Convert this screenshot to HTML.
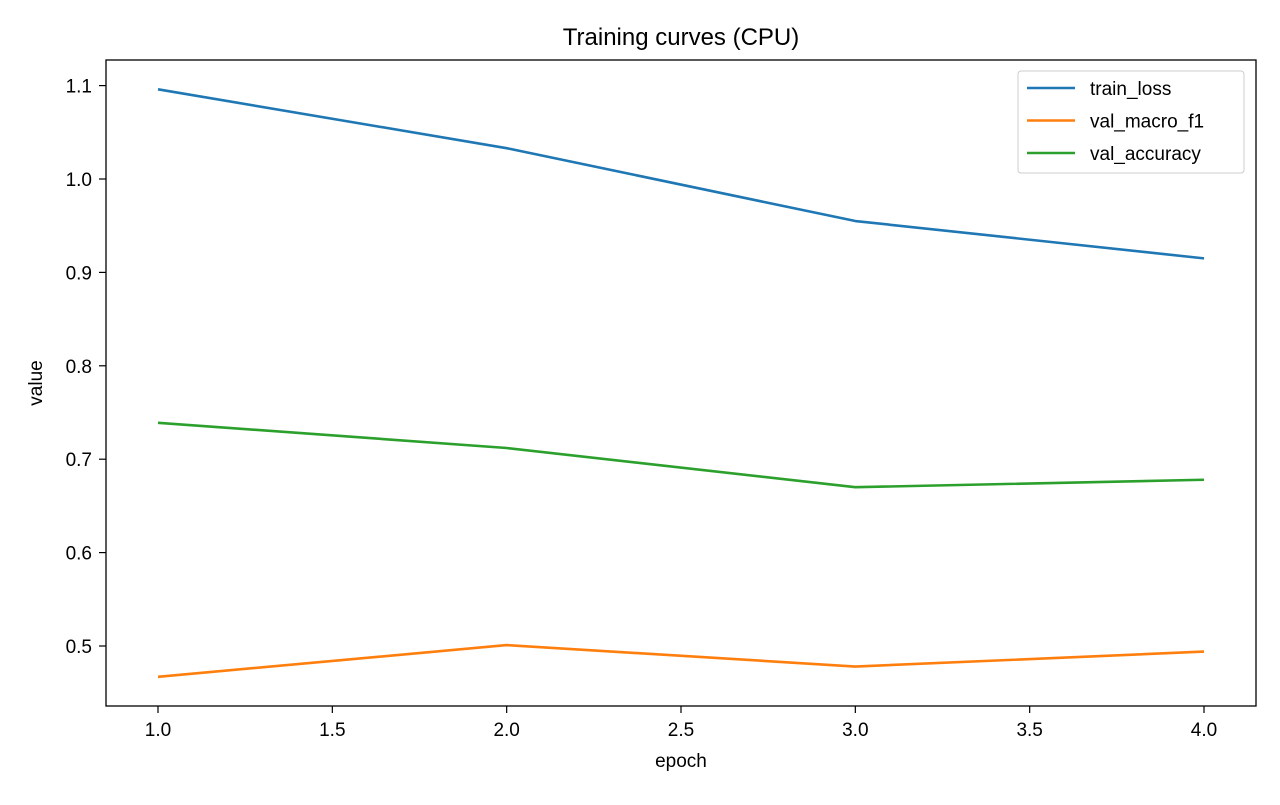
<!DOCTYPE html>
<html><head><meta charset="utf-8"><style>
body{margin:0;background:#fff;}
svg text{font-family:"Liberation Sans","DejaVu Sans",sans-serif;fill:#000;}
</style></head><body>
<svg id="chart" width="1280" height="800" xmlns="http://www.w3.org/2000/svg">
<rect width="1280" height="800" fill="#fff"/>
<text x="681" y="45" font-size="24" text-anchor="middle">Training curves (CPU)</text>
<g id="grid"></g>
<g id="series"></g>
<rect x="106" y="60" width="1150" height="646" fill="none" stroke="#000" stroke-width="1.3"/>
<text x="681" y="767" font-size="19" text-anchor="middle">epoch</text>
<text transform="translate(42,383) rotate(-90)" font-size="19" text-anchor="middle">value</text>
<g id="legend">
<rect x="1018" y="71" width="226" height="102" rx="3" fill="#fff" stroke="#ccc" stroke-width="1"/>
</g>
</svg>
<script>
const epochs = [1, 2, 3, 4];
const trainLoss = [1.096, 1.033, 0.955, 0.915];
const valMacroF1 = [0.467, 0.501, 0.478, 0.494];
const valAccuracy = [0.739, 0.712, 0.670, 0.678];
const xTicks = [1.0, 1.5, 2.0, 2.5, 3.0, 3.5, 4.0];
const yTicks = [0.5, 0.6, 0.7, 0.8, 0.9, 1.0, 1.1];
const seriesNames = ["train_loss", "val_macro_f1", "val_accuracy"];

const NS = "http://www.w3.org/2000/svg";
const xS = v => 158 + (v - 1) * (1204 - 158) / 3;
const yS = v => 646 - (v - 0.5) * 934;
const svg = document.getElementById('chart');
const grid = document.getElementById('grid');
const ser = document.getElementById('series');
const leg = document.getElementById('legend');
function mk(tag, attrs, parent) { const e = document.createElementNS(NS, tag); for (const k in attrs) e.setAttribute(k, attrs[k]); parent.appendChild(e); return e; }

xTicks.forEach(t => {
  const x = xS(t);
  const l = mk('line', {x1: x, x2: x, y1: 706, y2: 713, stroke: '#000', 'stroke-width': 1.2}, grid);
  
  
  const tx = mk('text', {x: x, y: 736, 'font-size': 19, 'text-anchor': 'middle'}, grid);
  tx.textContent = t.toFixed(1);
  
  
});
yTicks.forEach(t => {
  const y = yS(t);
  const l = mk('line', {x1: 99, x2: 106, y1: y, y2: y, stroke: '#000', 'stroke-width': 1.2}, grid);
  
  
  const tx = mk('text', {x: 92, y: y + 7, 'font-size': 19, 'text-anchor': 'end'}, grid);
  tx.textContent = t.toFixed(1);
  
  
});

const all = [trainLoss, valMacroF1, valAccuracy];
const colors = ['#1f77b4', '#ff7f0e', '#2ca02c'];
all.forEach((vals, i) => {
  const pts = vals.map((v, j) => xS(epochs[j]) + ',' + yS(v)).join(' ');
  const p = mk('polyline', {points: pts, fill: 'none', stroke: colors[i], 'stroke-width': 2.6, 'stroke-linejoin': 'round'}, ser);
  
  
  const ly = 88 + i * 32.5;
  const g = mk('g', {}, leg);
  
  
  mk('line', {x1: 1027, x2: 1075, y1: ly, y2: ly, stroke: colors[i], 'stroke-width': 2.6}, g);
  const t = mk('text', {x: 1090, y: ly + 7, 'font-size': 19}, g);
  t.textContent = seriesNames[i];
});
</script>
</body></html>
